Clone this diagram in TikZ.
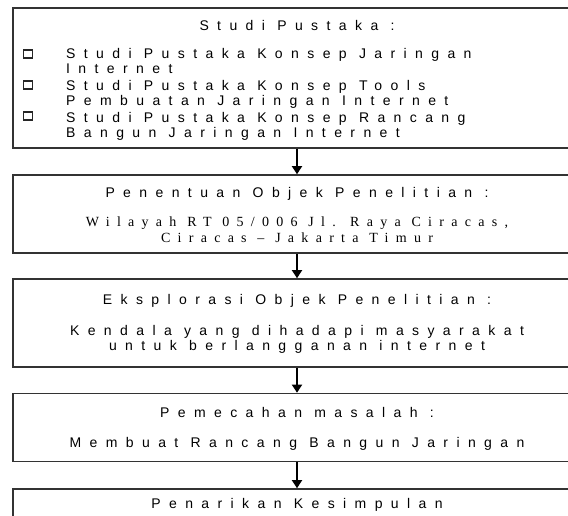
\documentclass[tikz,border=0pt]{standalone}
\usepackage{fontspec}
\usetikzlibrary{arrows.meta}
\newfontfamily\stagesans[LetterSpace=60]{Liberation Sans}
\newfontfamily\stageserif[LetterSpace=52]{Liberation Serif}
\tikzset{
    stage/.style={
        rectangle,
        draw=black!80,
        line width=1.6pt,
        minimum width=568pt,
        inner sep=0pt,
    },
    title/.style={
        anchor=base,
        inner sep=0pt,
        font=\stagesans\fontsize{14}{15}\selectfont,
    },
    item/.style={
        anchor=base west,
        inner sep=0pt,
        font=\stagesans\fontsize{14}{15}\selectfont,
    },
    place/.style={
        anchor=base,
        inner sep=0pt,
        font=\stageserif\fontsize{14}{15}\selectfont,
    },
    bullet/.style={
        rectangle,
        draw=black!85,
        line width=1.6pt,
        minimum width=9pt,
        minimum height=7.5pt,
        inner sep=0pt,
    },
    flow/.style={
        draw,
        -{Triangle[width=10pt,length=8pt]},
        line width=1.8pt,
    },
}
\begin{document}
\begin{tikzpicture}[x=1pt,y=-1pt]
    \path[use as bounding box] (0,0) rectangle (568,515);
    \clip (0,0) rectangle (568,515);

    % the five stages
    \node [stage, minimum height=140pt] (pustaka) at (297,78) {};
    \node [stage, minimum height=78pt] (objek) at (297,214) {};
    \node [stage, minimum height=88pt] (eksplorasi) at (297,323) {};
    \node [stage, minimum height=68pt] (pemecahan) at (297,427.5) {};
    \node [stage, minimum height=60pt] (simpulan) at (297,519) {};

    % studi pustaka
    \node [title] (pustakaT) at (297,30) {Studi Pustaka :};
    \node [bullet] (bulletA) at (28,54) {};
    \node [bullet] (bulletB) at (28,85) {};
    \node [bullet] (bulletC) at (28,116) {};
    \node [item] (itemA1) at (66,58) {Studi Pustaka Konsep Jaringan};
    \node [item] (itemA2) at (66,73) {Internet};
    \node [item] (itemB1) at (66,90) {Studi Pustaka Konsep Tools};
    \node [item] (itemB2) at (66,105) {Pembuatan Jaringan Internet};
    \node [item] (itemC1) at (66,122) {Studi Pustaka Konsep Rancang};
    \node [item] (itemC2) at (66,137) {Bangun Jaringan Internet};

    % objek penelitian
    \node [title] (objekT) at (297,197) {Penentuan Objek Penelitian :};
    \node [place] (objekA) at (297,226) {Wilayah RT 05/006 Jl. Raya Ciracas,};
    \node [place] (objekB) at (297,242) {Ciracas – Jakarta Timur};

    % eksplorasi
    \node [title] (eksplorasiT) at (297,304) {Eksplorasi Objek Penelitian :};
    \node [title] (eksplorasiA) at (297,335) {Kendala yang dihadapi masyarakat};
    \node [title] (eksplorasiB) at (297,350) {untuk berlangganan internet};

    % pemecahan masalah
    \node [title] (pemecahanT) at (297,417) {Pemecahan masalah :};
    \node [title] (pemecahanA) at (297,447) {Membuat Rancang Bangun Jaringan};

    % kesimpulan
    \node [title] (simpulanT) at (297,508) {Penarikan Kesimpulan};

    \draw [flow] (pustaka.south) -- (objek.north);
    \draw [flow] (objek.south) -- (eksplorasi.north);
    \draw [flow] (eksplorasi.south) -- (pemecahan.north);
    \draw [flow] (pemecahan.south) -- (simpulan.north);
\end{tikzpicture}
\end{document}
